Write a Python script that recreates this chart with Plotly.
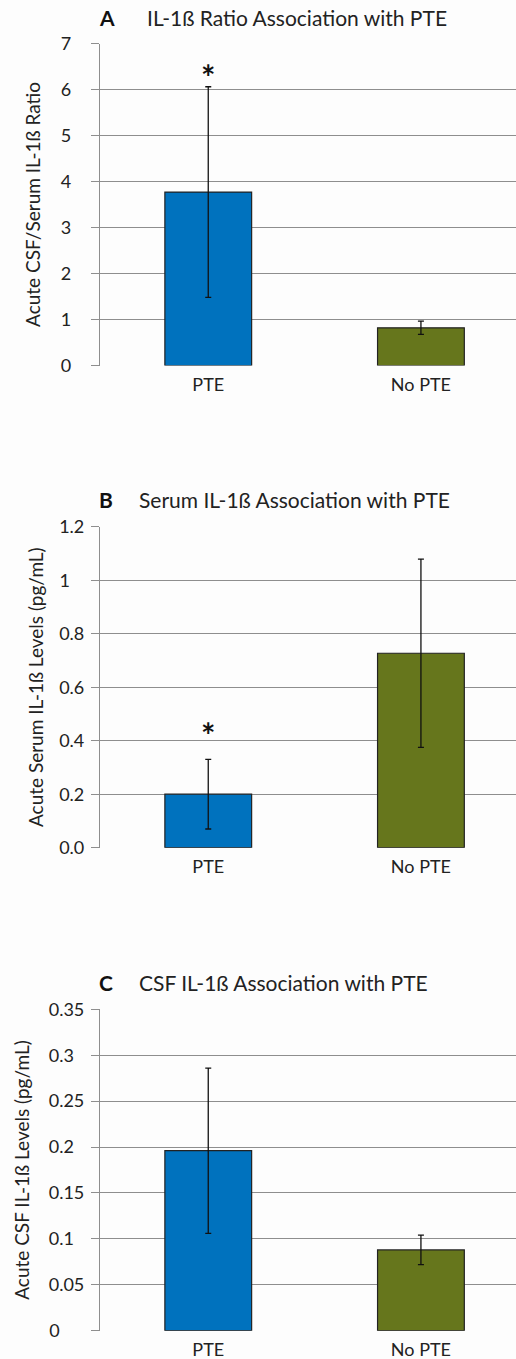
import plotly.graph_objects as go

# ---------------- data ----------------
categories = ["PTE", "No PTE"]

ratio_values = [3.77, 0.82]
ratio_errors = [2.29, 0.145]

serum_values = [0.200, 0.727]
serum_errors = [0.130, 0.352]

csf_values = [0.196, 0.088]
csf_errors = [0.090, 0.016]

ratio_ticks = [0, 1, 2, 3, 4, 5, 6, 7]
ratio_ticktext = ["0", "1", "2", "3", "4", "5", "6", "7"]
serum_ticks = [0.0, 0.2, 0.4, 0.6, 0.8, 1.0, 1.2]
serum_ticktext = ["0.0", "0.2", "0.4", "0.6", "0.8", "1", "1.2"]
csf_ticks = [0, 0.05, 0.1, 0.15, 0.2, 0.25, 0.3, 0.35]
csf_ticktext = ["0", "0.05", "0.1", "0.15", "0.2", "0.25", "0.3", "0.35"]

significant_ratio = [True, False]
significant_serum = [True, False]

bar_colors = ["#0072BE", "#66761C"]

FONT = "Lato"
W, H = 516, 1359
L = 100

def px_y(p):
    return (H - p) / H

def px_x(p):
    return (p - L) / (W - L)

FS = "\u2007"   # figure space (digit width)
PS = "\u2008"   # punctuation space (period width)

def pad(texts):
    out = []
    maxd = max(sum(c.isdigit() for c in t) for t in texts)
    maxp = max(t.count(".") for t in texts)
    for t in texts:
        d = sum(c.isdigit() for c in t)
        p = t.count(".")
        out.append(t + PS * (maxp - p) + FS * (maxd - d))
    return out

fig = go.Figure()

panels = [
    dict(vals=ratio_values, errs=ratio_errors, ticks=ratio_ticks, ttext=ratio_ticktext,
         rng=[0, 7], dom=[px_y(365.5), px_y(43.5)], title="Acute CSF/Serum IL-1ß Ratio",
         letter="A", head="IL-1ß Ratio Association with PTE", ty=18, hx=145, sig=significant_ratio,
         sigshift=10, standoff=16, tstand=15),
    dict(vals=serum_values, errs=serum_errors, ticks=serum_ticks, ttext=serum_ticktext,
         rng=[0, 1.2], dom=[px_y(847.7), px_y(526.7)], title="Acute Serum IL-1ß Levels (pg/mL)",
         letter="B", head="Serum IL-1ß Association with PTE", ty=500, hx=137, sig=significant_serum,
         sigshift=25, standoff=3, tstand=10),
    dict(vals=csf_values, errs=csf_errors, ticks=csf_ticks, ttext=csf_ticktext,
         rng=[0, 0.35], dom=[px_y(1330.7), px_y(1009.3)], title="Acute CSF IL-1ß Levels (pg/mL)",
         letter="C", head="CSF IL-1ß Association with PTE", ty=982, hx=137, sig=None,
         sigshift=0, standoff=3, tstand=14),
]

annotations = []
for i, pnl in enumerate(panels):
    n = "" if i == 0 else str(i + 1)
    fig.add_trace(go.Bar(
        x=categories, y=pnl["vals"],
        marker=dict(color=bar_colors, line=dict(color="#222222", width=1.2)),
        width=0.408,
        error_y=dict(type="data", array=pnl["errs"], visible=True,
                     color="#111111", thickness=1.3, width=3),
        xaxis="x" + n, yaxis="y" + n, showlegend=False,
    ))
    fig.update_layout(**{
        "xaxis" + n: dict(
            domain=[0, 1], anchor="y" + n, range=[-0.509, 1.447], type="category",
            showgrid=False, showline=False, ticks="", zeroline=False, automargin=False,
            tickfont=dict(family=FONT, size=18, color="#222222"),
            ticklabelstandoff=6,
        ),
        "yaxis" + n: dict(
            domain=pnl["dom"], anchor="x" + n, range=pnl["rng"], automargin=False,
            tickvals=pnl["ticks"], ticktext=pad(pnl["ttext"]),
            showgrid=True, gridcolor="#8E8E8E", gridwidth=1.2,
            showline=True, linecolor="#8E8E8E", linewidth=1.2,
            ticks="outside", ticklen=8, tickcolor="#8E8E8E", tickwidth=1.2,
            zeroline=False,
            tickfont=dict(family=FONT, size=18, color="#222222"),
            ticklabelstandoff=pnl["standoff"],
            title=dict(text=pnl["title"], font=dict(family=FONT, size=19, color="#222222"),
                       standoff=pnl["tstand"]),
        ),
    })
    annotations.append(dict(xref="paper", yref="paper", x=px_x(97), y=px_y(pnl["ty"]),
                            xanchor="left", yanchor="middle", showarrow=False,
                            text="<b>" + pnl["letter"] + "</b>",
                            font=dict(family=FONT, size=21, color="#111111")))
    annotations.append(dict(xref="paper", yref="paper", x=px_x(pnl["hx"]), y=px_y(pnl["ty"]),
                            xanchor="left", yanchor="middle", showarrow=False,
                            text=pnl["head"],
                            font=dict(family=FONT, size=21, color="#222222")))
    if pnl["sig"]:
        for c, v, e, s in zip(categories, pnl["vals"], pnl["errs"], pnl["sig"]):
            if s:
                annotations.append(dict(xref="x" + n, yref="y" + n, x=c, y=v + e,
                                        yshift=pnl["sigshift"], xanchor="center", yanchor="middle",
                                        showarrow=False, text="<b>*</b>",
                                        font=dict(family=FONT, size=34, color="#111111")))

fig.update_layout(
    width=W, height=H,
    margin=dict(l=L, r=0, t=0, b=0, autoexpand=False),
    paper_bgcolor="#FDFDFD", plot_bgcolor="#FDFDFD",
    annotations=annotations,
    bargap=0.5,
)

fig.write_html("out.html", config={"displayModeBar": False},
               post_script="document.body.style.margin='0';document.body.style.padding='0';")
